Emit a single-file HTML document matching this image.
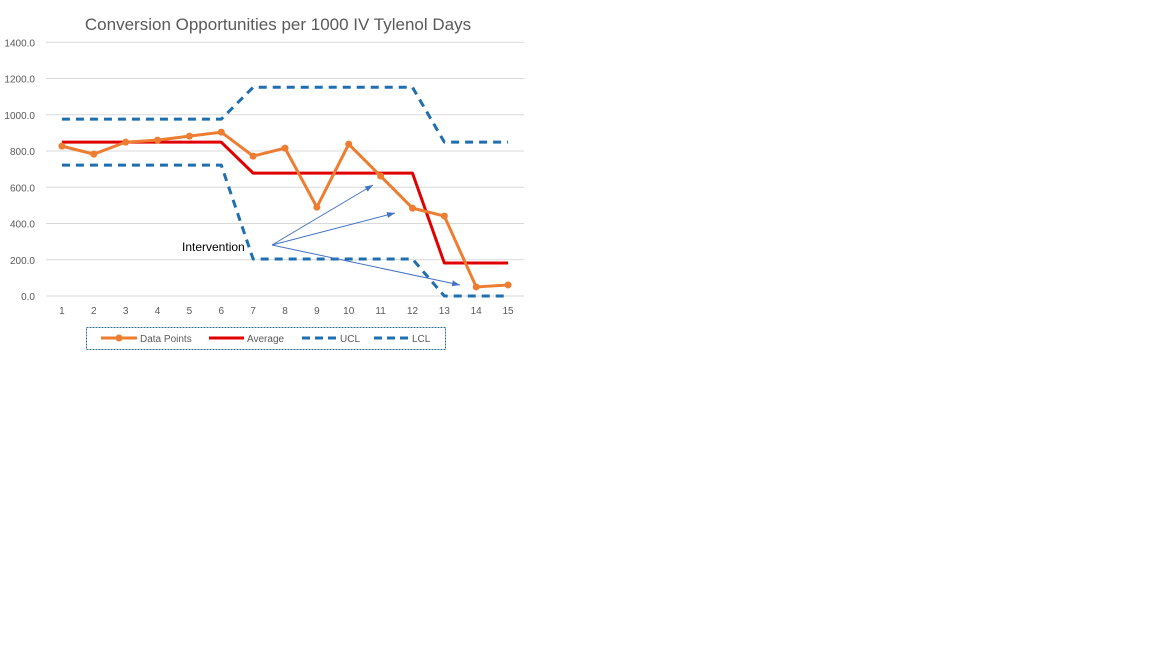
<!DOCTYPE html>
<html><head><meta charset="utf-8"><style>
body{margin:0;background:#fff;width:1152px;height:648px;overflow:hidden;font-family:"Liberation Sans",sans-serif}
</style></head><body>
<svg id="chart" width="1152" height="648" xmlns="http://www.w3.org/2000/svg">
<text x="278" y="30" text-anchor="middle" font-size="17" fill="#595959">Conversion Opportunities per 1000 IV Tylenol Days</text>
<g id="grid"></g><g id="series"></g>
<g>
<text x="182" y="251" font-size="12" fill="#000">Intervention</text>
</g>
<g>
<rect x="86.5" y="327.5" width="359" height="22" fill="none" stroke="#2e6f8e" stroke-width="1" stroke-dasharray="2,1"/>
<line x1="101" y1="338" x2="137" y2="338" stroke="#ed7d31" stroke-width="3"/><circle cx="119" cy="338" r="3.5" fill="#ed7d31"/>
<text x="140" y="342" font-size="10" fill="#595959">Data Points</text>
<line x1="209" y1="338" x2="244" y2="338" stroke="#e00000" stroke-width="3"/>
<text x="247" y="342" font-size="10" fill="#595959">Average</text>
<line x1="302" y1="338" x2="337" y2="338" stroke="#1f6fb0" stroke-width="3" stroke-dasharray="8,5"/>
<text x="340" y="342" font-size="10" fill="#595959">UCL</text>
<line x1="374" y1="338" x2="409" y2="338" stroke="#1f6fb0" stroke-width="3" stroke-dasharray="8,5"/>
<text x="412" y="342" font-size="10" fill="#595959">LCL</text>
</g>
</svg>
<script>
const categories=[1,2,3,4,5,6,7,8,9,10,11,12,13,14,15];
const dataPoints=[827,783,849,860,882,904,772,816,490,838,662,485,441,50,61];
const average=[849,849,849,849,849,849,678,678,678,678,678,678,182,182,182];
const ucl=[976,976,976,976,976,976,1152,1152,1152,1152,1152,1152,849,849,849];
const lcl=[722,722,722,722,722,722,204,204,204,204,204,204,0,0,0];
const yTicks=[0,200,400,600,800,1000,1200,1400];
const NS="http://www.w3.org/2000/svg";
const x0=46,x1=524,yB=296,yT=42.3,yMax=1400;
const xs=i=>x0+(x1-x0)/categories.length*(i+0.5);
const ys=v=>yB-(yB-yT)*v/yMax;
const grid=document.getElementById('grid'),ser=document.getElementById('series');
function mk(tag,attrs,parent){const e=document.createElementNS(NS,tag);for(const k in attrs)e.setAttribute(k,attrs[k]);parent.appendChild(e);return e;}
yTicks.forEach(t=>{
 const l=mk('line',{x1:x0,x2:x1,y1:ys(t),y2:ys(t),stroke:'#d9d9d9','stroke-width':1},grid);
 
 
 const tx=mk('text',{x:35,y:ys(t)+4,'text-anchor':'end','font-size':10,fill:'#595959'},grid);
 
 
 tx.textContent=t.toFixed(1);
});
categories.forEach((c,i)=>{
 const tx=mk('text',{x:xs(i),y:314,'text-anchor':'middle','font-size':10,fill:'#595959'},grid);
 
 
 tx.textContent=c;
});
function line(arr,color,dash,name){
 const p=mk('polyline',{points:arr.map((v,i)=>xs(i)+','+ys(v)).join(' '),fill:'none',stroke:color,'stroke-width':3,'stroke-dasharray':dash||'none','stroke-linejoin':'round'},ser);
 
 
}
line(ucl,'#1f6fb0','8,6','ucl-line');
line(lcl,'#1f6fb0','8,6','lcl-line');
line(average,'#e00000',null,'average-line');
line(dataPoints,'#ed7d31',null,'data-points-line');
dataPoints.forEach((v,i)=>{
 const c=mk('circle',{cx:xs(i),cy:ys(v),r:3.5,fill:'#ed7d31'},ser);
 
 
});
const defs=mk('defs',{},ser);
const m=mk('marker',{id:'ah',markerWidth:8,markerHeight:6,refX:8,refY:3,orient:'auto',markerUnits:'userSpaceOnUse'},defs);
mk('path',{d:'M0,0 L8,3 L0,6 Z',fill:'#4472c4'},m);
[[373,185],[395,213],[460,285]].forEach(e=>{
 const a=mk('line',{x1:272,y1:245,x2:e[0],y2:e[1],stroke:'#4472c4','stroke-width':1,'marker-end':'url(#ah)'},ser);
 
 
});
</script>
</body></html>
